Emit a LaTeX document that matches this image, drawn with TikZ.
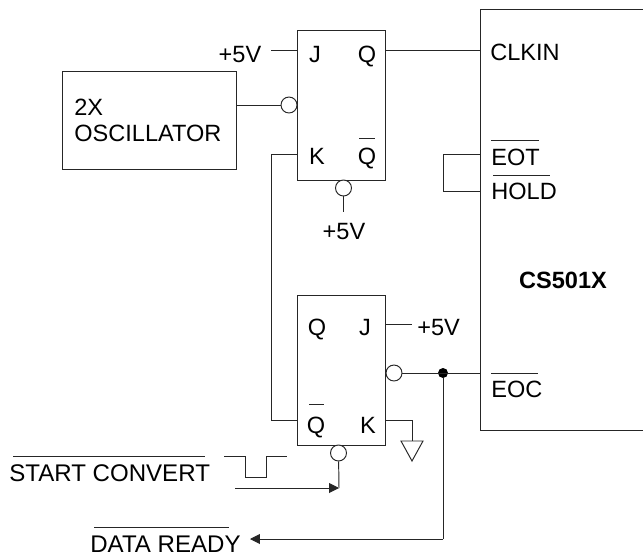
\documentclass[tikz,border=0pt]{standalone}
\usepackage{fontspec}
\setmainfont{Liberation Sans}
\usetikzlibrary{arrows.meta}
\tikzset{
	wire/.style={line width=0.55pt, color=black!85},
	ffbox/.style={draw=black!85, line width=0.55pt, minimum width=1.76cm, minimum height=3cm, inner sep=0},
	bubble/.style={circle, draw=black!85, fill=white, line width=0.55pt, minimum size=0.32cm, inner sep=0},
	junction/.style={circle, fill=black, minimum size=0.2cm, inner sep=0},
	pin/.style={anchor=base, inner sep=0, font=\fontsize{13.4}{15}\selectfont},
	lab/.style={anchor=base west, inner sep=0, font=\fontsize{13.4}{15}\selectfont},
	widelab/.style={lab, font=\fontsize{13.7}{15}\selectfont},
	tip/.style={-{Triangle[length=0.2cm,width=0.2cm]}}
}

\begin{document}
\begin{tikzpicture}[x=0.02cm,y=-0.02cm]
			\useasboundingbox (0,0) rectangle (643,555);
			
			%%%%% BOXES %%%%%
			\node[draw=black!85, line width=0.55pt, minimum width=3.48cm, minimum height=1.96cm, inner sep=0] (osc) at (149,120) {};
			\node[lab] (osca) at (74,115) {2X};
			\node[lab] (oscb) at (74,141) {OSCILLATOR};
			
			\node[ffbox] (ffa) at (341,105) {};
			\node[ffbox] (ffb) at (341,370) {};
			
			\coordinate (chipnw) at (480,9);
			\coordinate (chipsw) at (480,430);
			\draw[wire] (643,9) -- (chipnw) -- (chipsw) -- (643,430);
			
			%%%%% UPPER FLIP-FLOP %%%%%
			\node[pin] (ja) at (315,62) {J};
			\node[pin] (qa) at (367,62) {Q};
			\node[pin] (ka) at (317,164) {K};
			\node[pin] (nqa) at (367,164) {Q};
			\draw[wire] (359,138) -- (375,138);
			
			\node[pin] (vja) at (240,62) {+5V};
			\coordinate (jina) at (271,50);
			\draw[wire] (jina) -- (jina -| ffa.west);
			\draw[wire] (jina -| ffa.east) -- (jina -| chipnw);
			
			\node[bubble] (clka) at (289,105) {};
			\draw[wire] (clka) -- (clka -| osc.east);
			
			\node[bubble] (prea) at (343.5,188) {};
			\node[pin] (vpa) at (344,239) {+5V};
			\coordinate (pina) at (343.5,212);
			\draw[wire] (prea) -- (pina);
			
			%%%%% LOWER FLIP-FLOP %%%%%
			\node[pin] (qb) at (317,335) {Q};
			\node[pin] (jb) at (365,335) {J};
			\node[pin] (nqb) at (316,433) {Q};
			\node[pin] (kb) at (368,433) {K};
			\draw[wire] (309,404) -- (324,404);
			
			\coordinate (jinb) at (412,324);
			\node[lab] (vjb) at (417,335) {+5V};
			\draw[wire] (jinb -| ffb.east) -- (jinb);
			
			\coordinate (kturn) at (271,154);
			\coordinate (kend) at (271,420);
			\draw[wire] (kturn -| ffa.west) -- (kturn) -- (kend) -- (kend -| ffb.west);
			
			\coordinate (gnd) at (412,420);
			\draw[wire] (gnd -| ffb.east) -- (gnd) -- (412,441);
			\draw[wire] (401,441) -- (423,441) -- (412,461) -- cycle;
			
			%%%%% EOC AND DATA READY %%%%%
			\node[bubble] (eocb) at (394,373) {};
			\node[junction] (dot) at (443,373) {};
			\draw[wire] (eocb) -- (eocb -| chipnw);
			\coordinate (rdyturn) at (443,539);
			\coordinate (rdyend) at (250,539);
			\draw[wire] (dot) -- (rdyturn);
			\draw[wire, tip] (rdyturn) -- (rdyend);
			
			%%%%% START CONVERT %%%%%
			\node[bubble] (clkb) at (338.5,453) {};
			\coordinate (stin) at (235,488);
			\coordinate (stend) at (339,488);
			\draw[wire] (clkb) -- (stend);
			\draw[wire, tip] (stin) -- (stend);
			\draw[wire] (224,456) -- (245,456) -- (245,477) -- (266,477) -- (266,456) -- (287,456);
			
			\node[widelab] (start) at (9,481) {START CONVERT};
			\draw[wire] (13,456) -- (205,456);
			\node[widelab] (ready) at (90,552) {DATA READY};
			\draw[wire] (94,527) -- (229,527);
			
			%%%%% CHIP PINS %%%%%
			\coordinate (eotp) at (443,154);
			\coordinate (holdp) at (443,191);
			\draw[wire] (eotp -| chipnw) -- (eotp) -- (holdp) -- (holdp -| chipnw);
			
			\node[lab] (clkin) at (490,60) {CLKIN};
			\node[lab] (eot) at (491,165) {EOT};
			\draw[wire] (491,140) -- (539,140);
			\node[lab] (hold) at (491,199) {HOLD};
			\draw[wire] (493,175) -- (550,175);
			\node[pin, font=\fontsize{13.4}{15}\selectfont\bfseries] (chip) at (563,288) {CS501X};
			\node[lab] (eoc) at (491,397) {EOC};
			\draw[wire] (491,373) -- (538,373);
		\end{tikzpicture}
\end{document}
